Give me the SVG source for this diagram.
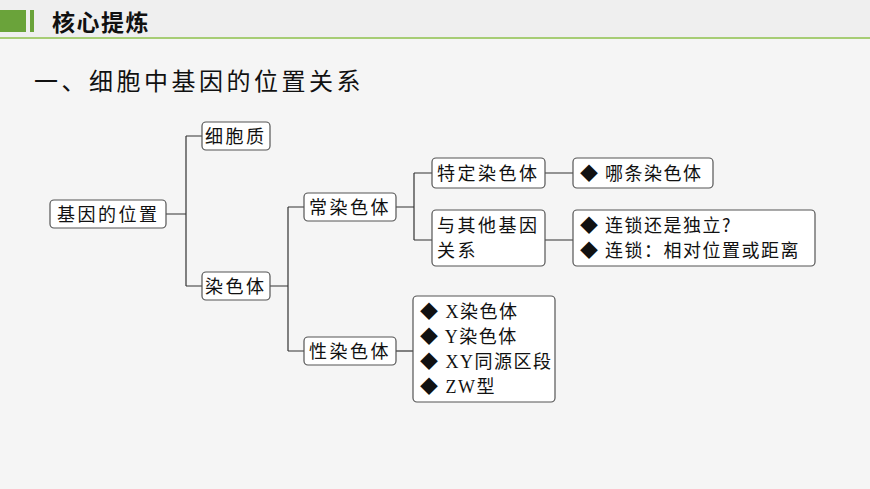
<svg xmlns="http://www.w3.org/2000/svg" width="870" height="489" viewBox="0 0 870 489">
<style>
.b{fill:#fff;stroke:#555;stroke-width:1.2}
.t{font-family:"Noto Sans CJK SC",sans-serif;font-size:18px;fill:#111;letter-spacing:2.5px}
.s{font-family:"Liberation Serif","Noto Sans CJK SC",serif;font-size:18px;fill:#111;letter-spacing:1.5px}
.c{fill:none;stroke:#333;stroke-width:1.2}
</style>
<rect width="870" height="489" fill="#f5f5f5"/>
<rect width="870" height="37" fill="#efefef"/>
<line x1="0" y1="38" x2="870" y2="38" stroke="#8cbf4a" stroke-width="1.5"/>
<rect x="0" y="10" width="26" height="22" fill="#6aa33a"/>
<rect x="30" y="10" width="4" height="22" fill="#6aa33a"/>
<text x="52" y="31" style="font-family:'Noto Sans CJK SC',sans-serif;font-size:23px;font-weight:bold;fill:#111;letter-spacing:1.5px">核心提炼</text>
<text x="34" y="90" style="font-family:'Noto Sans CJK SC',sans-serif;font-size:24px;fill:#111;letter-spacing:3.5px">一、细胞中基因的位置关系</text>
<g id="connectors">
<path class="c" d="M166 214H186M186 136V286M186 136H202M186 286H202"/>
<path class="c" d="M270 286H288M288 207V351M288 207H304M288 351H304"/>
<path class="c" d="M396 207H414M414 173V240M414 173H432M414 240H432"/>
<path class="c" d="M396 351H413"/>
<path class="c" d="M545 173H573M545 240H573"/>
</g>
<g id="n1"><rect class="b" x="50" y="200" width="116" height="28" rx="4"/><text class="t" x="57" y="221">基因的位置</text></g>
<g id="n2"><rect class="b" x="202" y="122" width="68" height="28" rx="4"/><text class="t" x="205" y="143">细胞质</text></g>
<g id="n3"><rect class="b" x="202" y="272" width="68" height="28" rx="4"/><text class="t" x="205" y="293">染色体</text></g>
<g id="n4"><rect class="b" x="304" y="193" width="92" height="28" rx="4"/><text class="t" x="309" y="214">常染色体</text></g>
<g id="n5"><rect class="b" x="304" y="337" width="92" height="28" rx="4"/><text class="t" x="309" y="358">性染色体</text></g>
<g id="n6"><rect class="b" x="432" y="158" width="113" height="30" rx="4"/><text class="t" x="437" y="180">特定染色体</text></g>
<g id="n7"><rect class="b" x="432" y="210" width="113" height="56" rx="4"/><text class="t" x="437" y="232">与其他基因</text><text class="t" x="437" y="257">关系</text></g>
<g id="n8"><rect class="b" x="573" y="158" width="140" height="30" rx="4"/><text class="t" x="580" y="180" style="letter-spacing:1.5px">◆ 哪条染色体</text></g>
<g id="n9"><rect class="b" x="573" y="210" width="242" height="56" rx="4"/><text class="t" x="580" y="232" style="letter-spacing:1.5px">◆ 连锁还是独立?</text><text class="t" x="580" y="257" style="letter-spacing:1.5px">◆ 连锁：相对位置或距离</text></g>
<g id="n10"><rect class="b" x="413" y="296" width="142" height="106" rx="4"/>
<text class="s" x="420" y="318">◆ X<tspan style="font-family:'Noto Sans CJK SC'">染色体</tspan></text>
<text class="s" x="420" y="343">◆ Y<tspan style="font-family:'Noto Sans CJK SC'">染色体</tspan></text>
<text class="s" x="420" y="368">◆ XY<tspan style="font-family:'Noto Sans CJK SC'">同源区段</tspan></text>
<text class="s" x="420" y="393">◆ ZW<tspan style="font-family:'Noto Sans CJK SC'">型</tspan></text></g>
</svg>
